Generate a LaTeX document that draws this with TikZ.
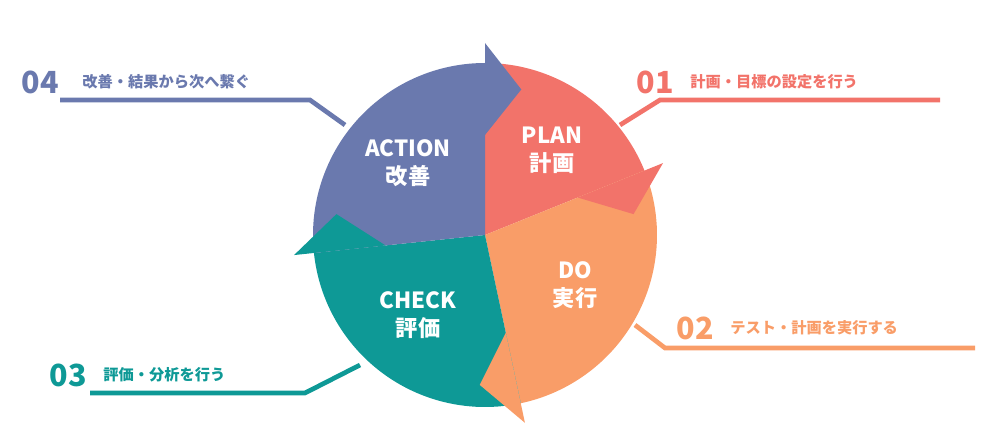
\documentclass[tikz,border=0pt]{standalone}
\usepackage{fontspec}
\setmainfont{Noto Sans CJK JP}
\usetikzlibrary{positioning}
\definecolor{plan}{HTML}{F2736A}
\definecolor{do}{HTML}{F99D68}
\definecolor{check}{HTML}{0E9996}
\definecolor{action}{HTML}{6A79AE}
\tikzset{
  phase/.style = {text=white, font=\bfseries\fontsize{19}{24}\selectfont, align=center},
  num/.style = {font=\bfseries\fontsize{26}{30}\selectfont, inner sep=0pt},
  note/.style = {font=\bfseries\fontsize{13}{16}\selectfont, inner sep=0pt, anchor=west},
  lead/.style = {line width=4pt}
}
\newcommand{\sector}[3]{%
  \fill[#1] (485,210) -- ++(#2:172) arc[start angle=#2, end angle=#3, radius=172] -- cycle;}
\newcommand{\headtip}[2]{%
  \fill[#1] (485,210) ++(#2:100) -- ++(0,0) coordinate (h1)
    (485,210) ++(#2:192) coordinate (h2)
    (485,210) ++({#2-14}:150) coordinate (h3);
  \fill[#1] (h1) -- (h2) -- (h3) -- cycle;}
\begin{document}
\begin{tikzpicture}[x=0.03cm, y=0.03cm]
  \useasboundingbox (0,0) rectangle (1000,445);
  % wedges
  \sector{plan}{90}{22}
  \sector{do}{22}{-78}
  \sector{check}{-78}{-174}
  \sector{action}{186}{90}
  % arrow heads
  \headtip{plan}{22}
  \headtip{do}{-78}
  \headtip{check}{-174}
  \headtip{action}{90}
  % phase names
  \node[phase] (act) at (408,282) {ACTION\\改善};
  \node[phase] (pl) at (552,295) {PLAN\\計画};
  \node[phase] (dox) at (575,160) {DO\\実行};
  \node[phase] (chk) at (418,130) {CHECK\\評価};
  % notes
  \node[num, text=action] (n4) at (40,363) {04};
  \node[note, text=action, right=20pt of n4] (t4) {改善・結果から次へ繋ぐ};
  \node[num, text=plan] (n1) at (655,363) {01};
  \node[note, text=plan, right=14pt of n1] (t1) {計画・目標の設定を行う};
  \node[num, text=do] (n2) at (695,117) {02};
  \node[note, text=do, right=14pt of n2] (t2) {テスト・計画を実行する};
  \node[num, text=check] (n3) at (68,70) {03};
  \node[note, text=check, right=14pt of n3] (t3) {評価・分析を行う};
  % leaders
  \coordinate (c4) at (345,320);
  \coordinate (c1) at (620,320);
  \coordinate (c2) at (635,120);
  \coordinate (c3) at (360,80);
  \draw[lead, action] (c4) -- (310,345) -- (60,345);
  \draw[lead, plan] (c1) -- (660,345) -- (940,345);
  \draw[lead, do] (c2) -- (665,97) -- (975,97);
  \draw[lead, check] (c3) -- (305,52) -- (90,52);
\end{tikzpicture}
\end{document}
